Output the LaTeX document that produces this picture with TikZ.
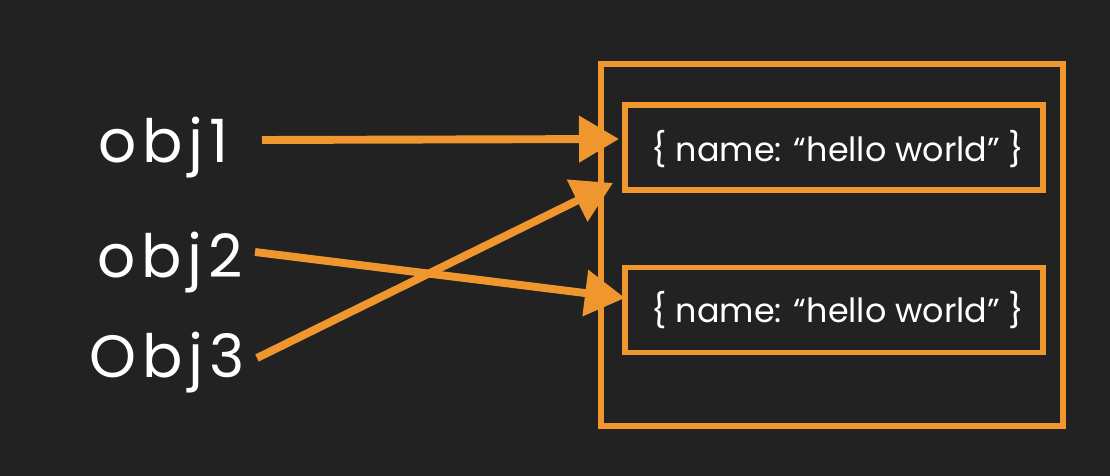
\documentclass[tikz,border=0pt]{standalone}
\usepackage{fontspec}
\setmainfont{Poppins}
\usetikzlibrary{arrows.meta,calc}
\definecolor{bg}{HTML}{222222}
\definecolor{chalk}{HTML}{F0962F}
\begin{document}
\begin{tikzpicture}[x=0.02cm,y=-0.02cm,
  lbl/.style={text=white,font=\fontsize{34}{40}\selectfont\addfontfeatures{LetterSpace=10},inner sep=0pt,anchor=base west},
  objbox/.style={draw=chalk,line width=3pt,minimum width=8.36cm,minimum height=1.7cm,inner sep=0pt},
  objtext/.style={text=white,font=\fontsize{19}{23}\selectfont,inner sep=0pt,anchor=base},
  heapbox/.style={draw=chalk,line width=3pt,minimum width=9.24cm,minimum height=7.24cm,inner sep=0pt},
  ptr/.style={draw=chalk,line width=4.5pt,-{Triangle[length=0.8cm,width=0.9cm]}}]
\fill[bg] (0,0) rectangle (1110,476);
\useasboundingbox (0,0) rectangle (1110,476);
% heap
\node[heapbox] (heap) at (832,245) {};
\node[objbox] (b1) at (834,147.5) {};
\node[objbox] (b2) at (834,310) {};
\node[objtext] (t1txt) at (838,162) {\{ name: “hello world” \}};
\node[objtext] (t2txt) at (838,323) {\{ name: “hello world” \}};
% labels
\node[lbl] (o1) at (98,163) {obj1};
\node[lbl] (o2) at (97,278) {obj2};
\node[lbl] (o3) at (89,378) {Obj3};
% arrow ends
\coordinate (s1) at (262,140);
\coordinate (s2) at (255,252);
\coordinate (s3) at (257,358);
\coordinate (t1) at (619,139);
\coordinate (t2) at (625,298);
\coordinate (t3) at (613,183);
\draw[ptr] (s1) -- (t1);
\draw[ptr] (s2) -- (t2);
\draw[ptr] (s3) -- (t3);
\end{tikzpicture}
\end{document}
